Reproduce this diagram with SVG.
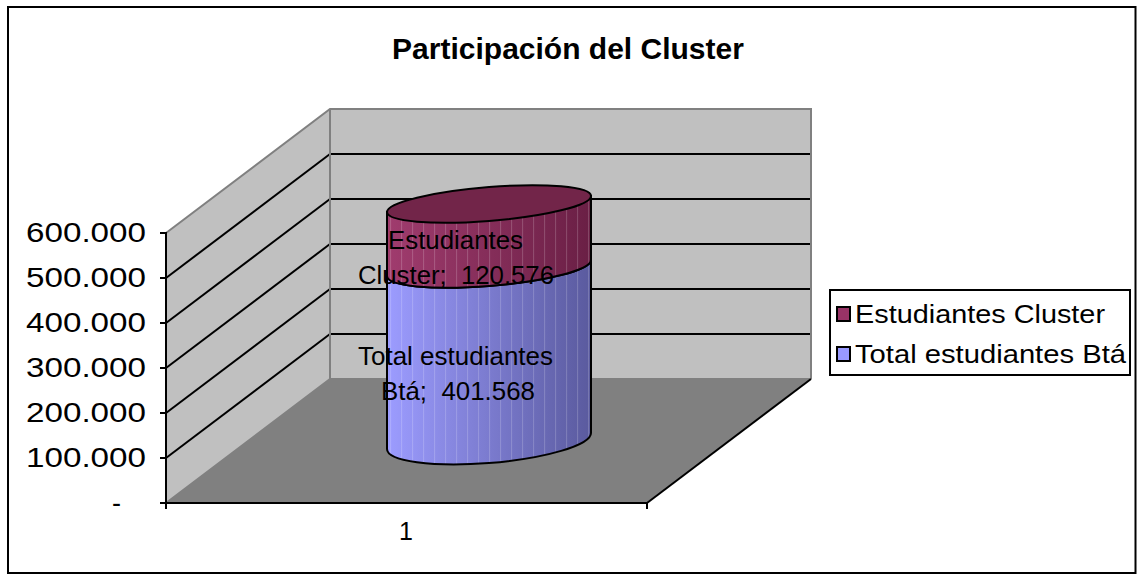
<svg xmlns="http://www.w3.org/2000/svg" width="1137" height="575" viewBox="0 0 1137 575">
<style>
.t{font-family:"Liberation Sans",Arial,sans-serif;font-size:25px;fill:#000}
.y{font-family:"Liberation Sans",Arial,sans-serif;font-size:27px;fill:#000}
.d{font-family:"Liberation Sans",Arial,sans-serif;font-size:26px;fill:#000}
.ttl{font-family:"Liberation Sans",Arial,sans-serif;font-size:30px;font-weight:bold;fill:#000}
.grid{stroke:#000;stroke-width:2;fill:none}
.edge{stroke:#808080;stroke-width:2;fill:none}
.ax{stroke:#000;stroke-width:2;fill:none}
</style>
<defs>
<linearGradient id="gRed" x1="0" y1="0" x2="1" y2="0">
<stop offset="0" stop-color="#A03C6E"/><stop offset="1" stop-color="#6A1F45"/>
</linearGradient>
<linearGradient id="gBlue" x1="0" y1="0" x2="1" y2="0">
<stop offset="0" stop-color="#9C9CFF"/><stop offset="1" stop-color="#5A5A9E"/>
</linearGradient>
<pattern id="stripes" patternUnits="userSpaceOnUse" x="0" y="0" width="11" height="10">
<rect x="0" y="0" width="1" height="10" fill="#ffffff" fill-opacity="0.18"/>
</pattern>
</defs>
<rect x="0" y="0" width="1137" height="575" fill="#ffffff"/>
<rect x="8" y="7" width="1127.5" height="566" fill="none" stroke="#000" stroke-width="2"/>
<text class="ttl" x="568" y="59" text-anchor="middle">Participación del Cluster</text>

<g id="plot-walls">
<polygon points="166,233 330,109 330,379 166,503" fill="#C0C0C0"/>
<rect x="330" y="109" width="481" height="270" fill="#C0C0C0"/>
<polygon points="166,503 330,379 811,379 647,503" fill="#808080"/>
<g class="grid">
<line x1="330" y1="154" x2="811" y2="154"/><line x1="166" y1="278" x2="330" y2="154"/>
<line x1="330" y1="199" x2="811" y2="199"/><line x1="166" y1="323" x2="330" y2="199"/>
<line x1="330" y1="244" x2="811" y2="244"/><line x1="166" y1="368" x2="330" y2="244"/>
<line x1="330" y1="289" x2="811" y2="289"/><line x1="166" y1="413" x2="330" y2="289"/>
<line x1="330" y1="334" x2="811" y2="334"/><line x1="166" y1="458" x2="330" y2="334"/>
</g>
<g class="edge">
<polyline points="166,233 330,109 811,109 811,379"/>
<line x1="330" y1="109" x2="330" y2="379"/>
<polyline points="166,503 330,379 811,379"/>
</g>
<g class="ax">
<line x1="166" y1="232" x2="166" y2="509"/>
<line x1="160" y1="503" x2="647" y2="503"/>
<line x1="647" y1="503" x2="811" y2="379"/>
<line x1="647" y1="503" x2="647" y2="509"/>
<line x1="160" y1="233" x2="166" y2="233"/>
<line x1="160" y1="278" x2="166" y2="278"/>
<line x1="160" y1="323" x2="166" y2="323"/>
<line x1="160" y1="368" x2="166" y2="368"/>
<line x1="160" y1="413" x2="166" y2="413"/>
<line x1="160" y1="458" x2="166" y2="458"/>
</g>
</g>

<g id="y-axis-labels" class="y">
<text x="26" y="242" textLength="120" lengthAdjust="spacingAndGlyphs">600.000</text>
<text x="26" y="287" textLength="120" lengthAdjust="spacingAndGlyphs">500.000</text>
<text x="26" y="332" textLength="120" lengthAdjust="spacingAndGlyphs">400.000</text>
<text x="26" y="377" textLength="120" lengthAdjust="spacingAndGlyphs">300.000</text>
<text x="26" y="422" textLength="120" lengthAdjust="spacingAndGlyphs">200.000</text>
<text x="26" y="467" textLength="120" lengthAdjust="spacingAndGlyphs">100.000</text>
<text x="112" y="512">-</text>
</g>
<text class="t" x="406" y="540" text-anchor="middle">1</text>

<g id="cylinder" transform="translate(489,0) skewY(-4.5)">
<path id="blue-body" d="M -102 268 A 102 18 0 0 0 102 268 L 102 441 A 102 22 0 0 1 -102 441 Z" fill="url(#gBlue)"/>
<path d="M -102 268 A 102 18 0 0 0 102 268 L 102 441 A 102 22 0 0 1 -102 441 Z" fill="url(#stripes)" stroke="#000" stroke-width="2"/>
<path id="red-body" d="M -102 204 L -102 268 A 102 18 0 0 0 102 268 L 102 204 Z" fill="url(#gRed)"/>
<path d="M -102 204 L -102 268 A 102 18 0 0 0 102 268 L 102 204 Z" fill="url(#stripes)" stroke="#000" stroke-width="2"/>
<ellipse cx="0" cy="204" rx="102" ry="17" fill="#722549" stroke="#000" stroke-width="2"/>
</g>

<g id="data-labels" class="d">
<text x="388" y="249" textLength="135" lengthAdjust="spacingAndGlyphs">Estudiantes</text>
<text x="358" y="284" textLength="196" lengthAdjust="spacingAndGlyphs">Cluster;&#160; 120.576</text>
<text x="358" y="365" textLength="195" lengthAdjust="spacingAndGlyphs">Total estudiantes</text>
<text x="381" y="400" textLength="154" lengthAdjust="spacingAndGlyphs">Btá;&#160; 401.568</text>
</g>

<g id="legend">
<rect x="830" y="290" width="300" height="85" fill="#ffffff" stroke="#000" stroke-width="2"/>
<rect x="837" y="307" width="13" height="14" fill="#993366" stroke="#000" stroke-width="2"/>
<rect x="837" y="347" width="13" height="14" fill="#9999FF" stroke="#000" stroke-width="2"/>
<text class="d" x="855" y="323" textLength="250" lengthAdjust="spacingAndGlyphs">Estudiantes Cluster</text>
<text class="d" x="855" y="363" textLength="271" lengthAdjust="spacingAndGlyphs">Total estudiantes Btá</text>
</g>
</svg>
